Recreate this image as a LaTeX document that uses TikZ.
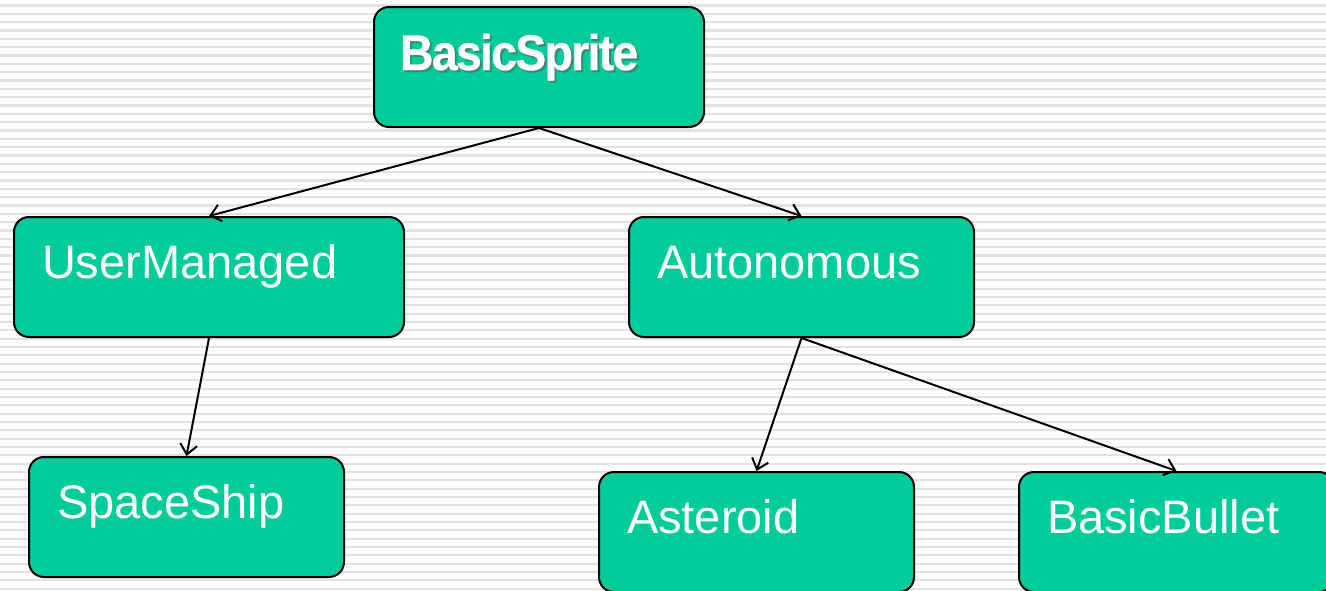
\documentclass[tikz,border=0pt]{standalone}
\usepackage{fontspec}
\setmainfont{Liberation Sans}
\newfontfamily\titlefont[FakeStretch=0.93,FakeBold=0.6,LetterSpace=-3.5]{Liberation Sans Bold}
\usetikzlibrary{arrows.meta}
\definecolor{boxgreen}{HTML}{00CC99}
\definecolor{stripe}{HTML}{E2E2E2}
\definecolor{shadowc}{HTML}{3A8A72}
\tikzset{
  classbox/.style={draw=black, line width=2pt, fill=boxgreen, rounded corners=15pt,
    inner xsep=28pt, inner ysep=0pt, text height=61pt, text depth=59pt,
    align=left, text=white, font=\fontsize{47}{50}\selectfont},
  inherit/.style={line width=2pt, -{Straight Barb[length=10pt,width=17pt,line width=2pt]}}
}
\begin{document}
\begin{tikzpicture}[x=1pt,y=-1pt]
\useasboundingbox (0,0) rectangle (1326,590);
\fill[white] (0,0) rectangle (1326,590);
\foreach \i in {0,...,70}{
  \draw[stripe, line width=2.2pt] (0,{5.5+8.33*\i}) -- (1326,{5.5+8.33*\i});
}
\node[classbox, text width=278pt, inner xsep=26pt, text height=63pt, text depth=57pt] (bs) at (539,67)
  {\titlefont\fontsize{50}{52}\selectfont\rlap{\hspace{2pt}\raisebox{-2pt}{\textcolor{shadowc}{BasicSprite}}}BasicSprite};
\node[classbox, text width=334pt] (um) at (209,277) {UserManaged};
\node[classbox, text width=289pt] (au) at (801.5,277) {Autonomous};
\node[classbox, text width=259pt] (ss) at (186.5,517) {SpaceShip};
\node[classbox, text width=259pt] (as) at (756.5,532) {Asteroid};
\node[classbox, text width=259pt] (bb) at (1176.5,532) {BasicBullet};
\draw[inherit] (bs.south) -- (um.north);
\draw[inherit] (bs.south) -- (au.north);
\draw[inherit] (um.south) -- (ss.north);
\draw[inherit] (au.south) -- (as.north);
\draw[inherit] (au.south) -- (bb.north);
\end{tikzpicture}
\end{document}
